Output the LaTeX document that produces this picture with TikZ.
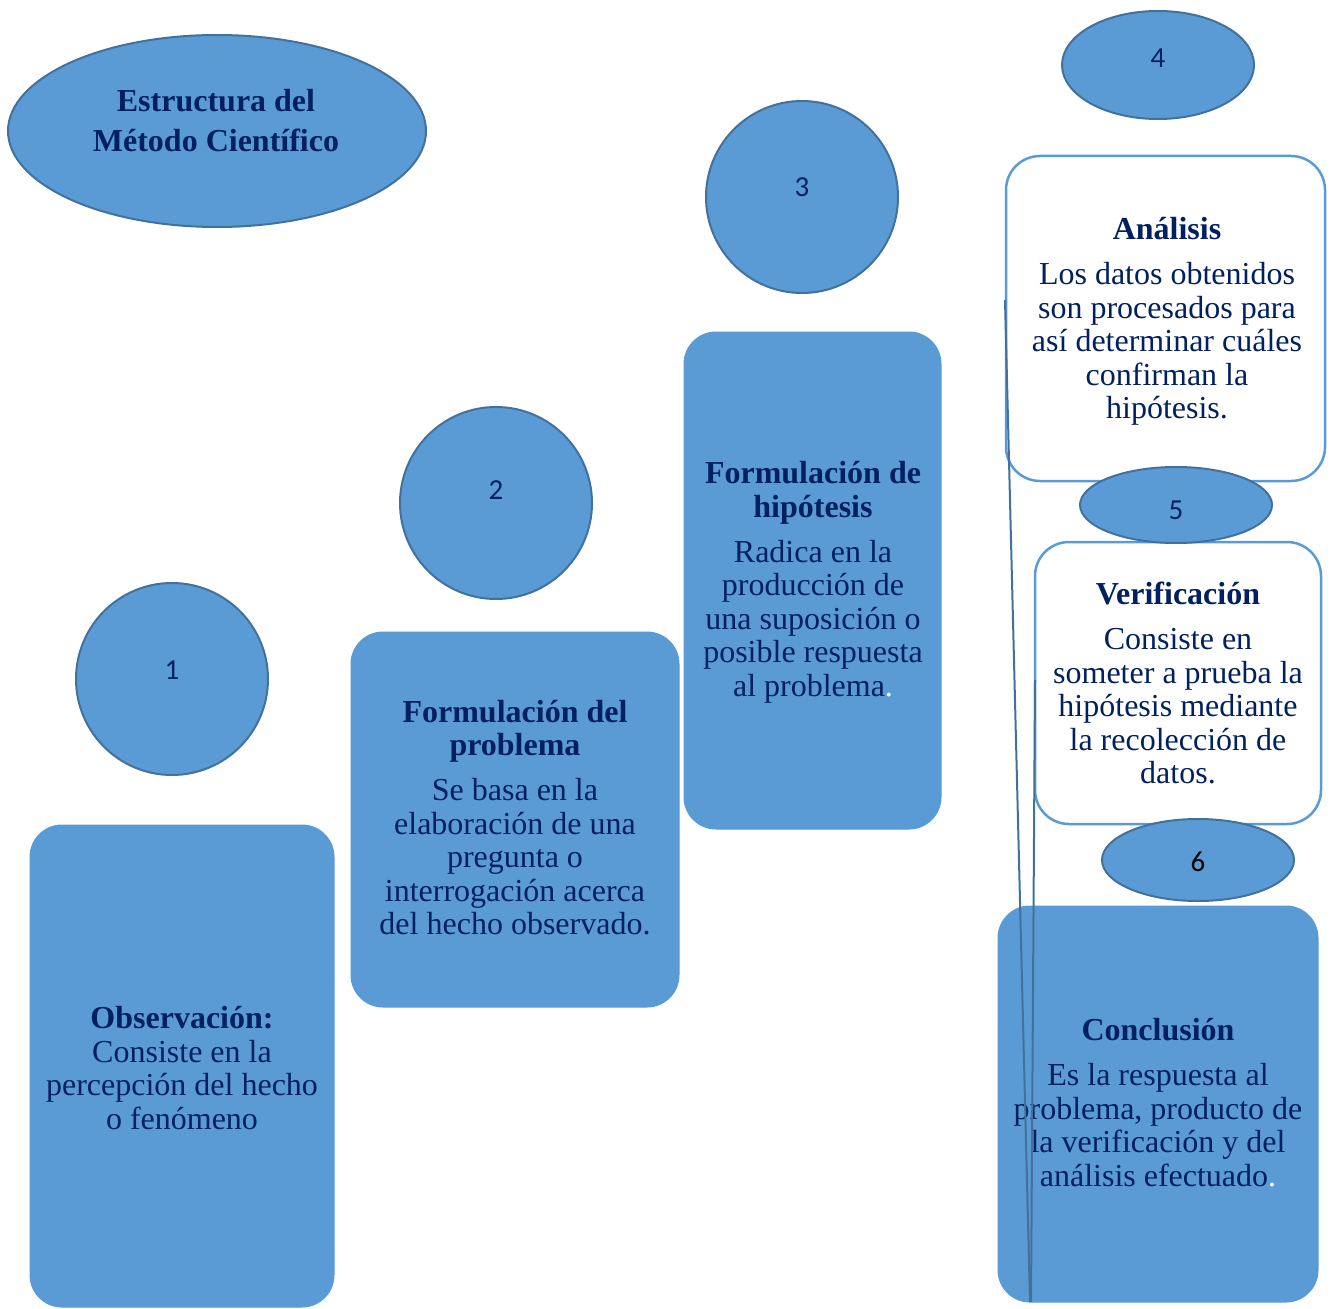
\documentclass[tikz,border=0pt]{standalone}
\usepackage{fontspec}
\setmainfont{Liberation Serif}
\newfontfamily\numfont{Carlito}
\usetikzlibrary{shapes.geometric}
\definecolor{boxblue}{HTML}{5B9BD5}
\definecolor{edgeblue}{HTML}{41719C}
\definecolor{navy}{HTML}{002060}
\begin{document}
\begin{tikzpicture}[x=1pt,y=-1pt,
  bluebox/.style={rectangle, rounded corners=32pt, fill=boxblue, draw=boxblue, line width=1pt, inner sep=0pt},
  whitebox/.style={rectangle, rounded corners=34pt, fill=white, draw=boxblue, line width=2.5pt, inner sep=0pt},
  oval/.style={ellipse, fill=boxblue, draw=edgeblue, line width=2pt, inner sep=0pt},
  numtxt/.style={font=\numfont\fontsize{29}{31}\selectfont, text=navy, inner sep=0pt},
  body/.style={align=center, text=navy, font=\fontsize{32}{33.5}\selectfont, inner sep=0pt},
  link/.style={draw=edgeblue, line width=2pt}]
\useasboundingbox (0,0) rectangle (1332,1308);

% title
\node[oval, minimum width=418pt, minimum height=192pt] (title) at (217,131) {};
\node[body, font=\bfseries\fontsize{32}{40}\selectfont] (titletxt) at (216,121) {Estructura del\\Método Científico};

% numbered circles
\node[oval, minimum width=192pt, minimum height=192pt] (c1) at (172,679) {};
\node[numtxt] (n1) at (172,670) {1};
\node[oval, minimum width=192pt, minimum height=192pt] (c2) at (496,503) {};
\node[numtxt] (n2) at (496,490) {2};
\node[oval, minimum width=192pt, minimum height=192pt] (c3) at (802,197) {};
\node[numtxt] (n3) at (802,187) {3};
\node[oval, minimum width=192pt, minimum height=108pt] (c4) at (1158,65) {};
\node[numtxt] (n4) at (1158,58) {4};

% boxes
\node[bluebox, minimum width=304pt, minimum height=482pt] (obs) at (182,1066) {};
\node[body] (obstxt) at (182,1068) {\textbf{Observación:}\\Consiste en la\\percepción del hecho\\o fenómeno};

\node[bluebox, minimum width=328pt, minimum height=375pt] (prob) at (515,819.5) {};
\node[body] (probtxt) at (515,817.5) {\textbf{Formulación del}\\\textbf{problema}\\[11.5pt]Se basa en la\\elaboración de una\\pregunta o\\interrogación acerca\\del hecho observado.};

\node[bluebox, minimum width=257pt, minimum height=497pt] (hip) at (812.5,580.5) {};
\node[body] (hiptxt) at (813,582.5) {\textbf{Formulación de}\\\textbf{hipótesis}\\[11.5pt]Radica en la\\producción de\\una suposición o\\posible respuesta\\al problema{\color{white}.}};

\node[whitebox, minimum width=319pt, minimum height=325pt] (ana) at (1165.5,318.5) {};
\node[body] (anatxt) at (1167,321.5) {\textbf{Análisis}\\[11.5pt]Los datos obtenidos\\son procesados para\\así determinar cuáles\\confirman la\\hipótesis.};

\node[whitebox, minimum width=286pt, minimum height=282pt] (ver) at (1178,683) {};
\node[body] (vertxt) at (1178,683) {\textbf{Verificación}\\[11.5pt]Consiste en\\someter a prueba la\\hipótesis mediante\\la recolección de\\datos.};

\node[oval, minimum width=192pt, minimum height=76pt] (c5) at (1176,505) {};
\node[numtxt] (n5) at (1176,510) {5};

\node[bluebox, minimum width=320pt, minimum height=396pt] (con) at (1158,1104) {};
\node[body] (contxt) at (1158,1102.5) {\textbf{Conclusión}\\[11.5pt]Es la respuesta al\\problema, producto de\\la verificación y del\\análisis efectuado{\color{white}.}};

\node[oval, minimum width=192pt, minimum height=82pt] (c6) at (1198,860) {};
\node[numtxt, text=black] (n6) at (1198,862) {6};

% lines
\coordinate (la1) at (1005,300);
\coordinate (la2) at (1030,1302);
\coordinate (lb1) at (1035,680);
\coordinate (lb2) at (1031,1302);
\draw[link] (la1) -- (la2);
\draw[link] (lb1) -- (lb2);
\end{tikzpicture}
\end{document}
